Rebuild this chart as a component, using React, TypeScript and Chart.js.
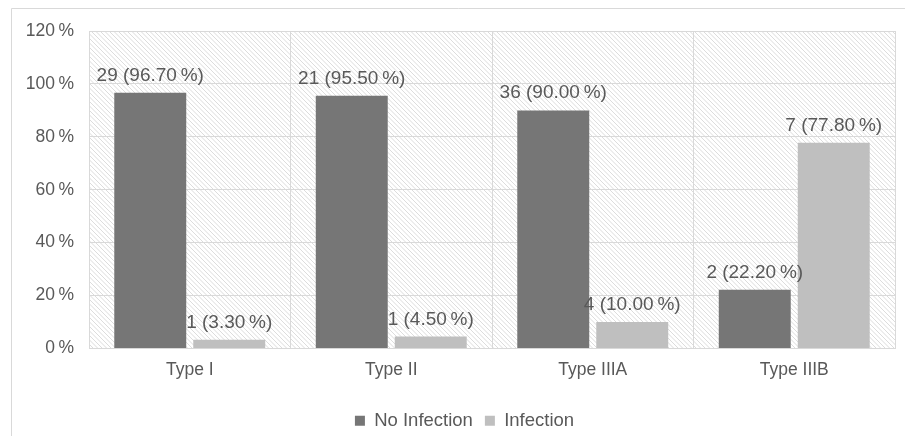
import React, { useEffect, useRef } from "react";
import { Chart, registerables } from "chart.js";

Chart.register(...registerables);

const categories = ["Type I", "Type II", "Type IIIA", "Type IIIB"];
const noInfectionCounts = [29, 21, 36, 2];
const noInfectionPct = [96.7, 95.5, 90.0, 22.2];
const infectionCounts = [1, 1, 4, 7];
const infectionPct = [3.3, 4.5, 10.0, 77.8];
const yTicks = [0, 20, 40, 60, 80, 100, 120];

const FONT = "'Liberation Sans', Arial, sans-serif";
const TEXT = "#595959";
const GRID = "#d9d9d9";

const bgPlugin = {
  id: "hatchBg",
  beforeDraw(chart: any) {
    const { ctx, chartArea, width, height } = chart;
    ctx.save();
    ctx.fillStyle = "#ffffff";
    ctx.fillRect(0, 0, width, height);
    // outer frame
    ctx.strokeStyle = GRID;
    ctx.lineWidth = 1;
    ctx.beginPath();
    ctx.moveTo(11.5, height);
    ctx.lineTo(11.5, 8.5);
    ctx.lineTo(width, 8.5);
    ctx.stroke();
    // hatch
    const { left, top, right, bottom } = chartArea;
    ctx.beginPath();
    ctx.rect(left, top, right - left, bottom - top);
    ctx.clip();
    ctx.strokeStyle = "#dcdcdc";
    ctx.lineWidth = 1;
    const h = bottom - top;
    ctx.beginPath();
    for (let x = left - h; x < right; x += 4.5) {
      ctx.moveTo(x, top);
      ctx.lineTo(x + h, bottom);
    }
    ctx.stroke();
    ctx.restore();
  },
};

const legendShift = {
  id: "legendShift",
  afterLayout(chart: any) {
    const lg = chart.legend;
    if (!lg) return;
    lg.left += 17;
    lg.right += 17;
    lg.top += 4;
    lg.bottom += 4;
  },
};

const labelPlugin = {
  id: "barLabels",
  afterDatasetsDraw(chart: any) {
    const { ctx } = chart;
    const counts = [noInfectionCounts, infectionCounts];
    const pcts = [noInfectionPct, infectionPct];
    ctx.save();
    ctx.font = `19px ${FONT}`;
    ctx.fillStyle = TEXT;
    ctx.textAlign = "center";
    ctx.textBaseline = "alphabetic";
    chart.data.datasets.forEach((_: any, di: number) => {
      const meta = chart.getDatasetMeta(di);
      meta.data.forEach((el: any, i: number) => {
        const txt = `${counts[di][i]} (${pcts[di][i].toFixed(2)}\u2009%)`;
        ctx.fillText(txt, el.x, el.y - 12);
      });
    });
    ctx.restore();
  },
};

export default function App() {
  const ref = useRef<HTMLCanvasElement>(null);
  useEffect(() => {
    document.body.style.margin = "0";
    const chart = new Chart(ref.current!, {
      type: "bar",
      data: {
        labels: categories,
        datasets: [
          {
            label: "No Infection",
            data: noInfectionPct,
            backgroundColor: "#767676",
            categoryPercentage: 0.784,
            barPercentage: 0.911,
          },
          {
            label: "Infection",
            data: infectionPct,
            backgroundColor: "#bfbfbf",
            categoryPercentage: 0.784,
            barPercentage: 0.911,
          },
        ],
      },
      options: {
        responsive: false,
        animation: false,
        layout: { padding: { top: 31, right: 10, left: 0, bottom: 0 } },
        plugins: {
          legend: {
            position: "bottom",
            labels: {
              font: { family: FONT, size: 18.5 },
              color: TEXT,
              boxWidth: 10,
              boxHeight: 10,
              padding: 12,
            },
          },
          tooltip: { enabled: false },
        },
        scales: {
          x: {
            grid: { color: GRID, drawTicks: false, offset: true },
            border: { color: GRID },
            ticks: { font: { family: FONT, size: 17.5 }, color: TEXT, padding: 11 },
            afterFit(scale: any) {
              scale.height = 47;
            },
          },
          y: {
            min: 0,
            max: 120,
            afterBuildTicks(scale: any) {
              scale.ticks = yTicks.map((v) => ({ value: v }));
            },
            grid: { color: GRID, drawTicks: false },
            border: { display: false },
            ticks: {
              font: { family: FONT, size: 17.5 },
              color: TEXT,
              padding: 15,
              callback: (v: any) => `${v}\u2009%`,
            },
            afterFit(scale: any) {
              scale.width = 89;
            },
          },
        },
      },
      plugins: [bgPlugin, labelPlugin, legendShift],
    });
    return () => chart.destroy();
  }, []);
  return (
    <div style={{ position: "fixed", left: 0, top: 0 }}>
      <canvas ref={ref} width={905} height={436} style={{ display: "block" }} />
    </div>
  );
}
